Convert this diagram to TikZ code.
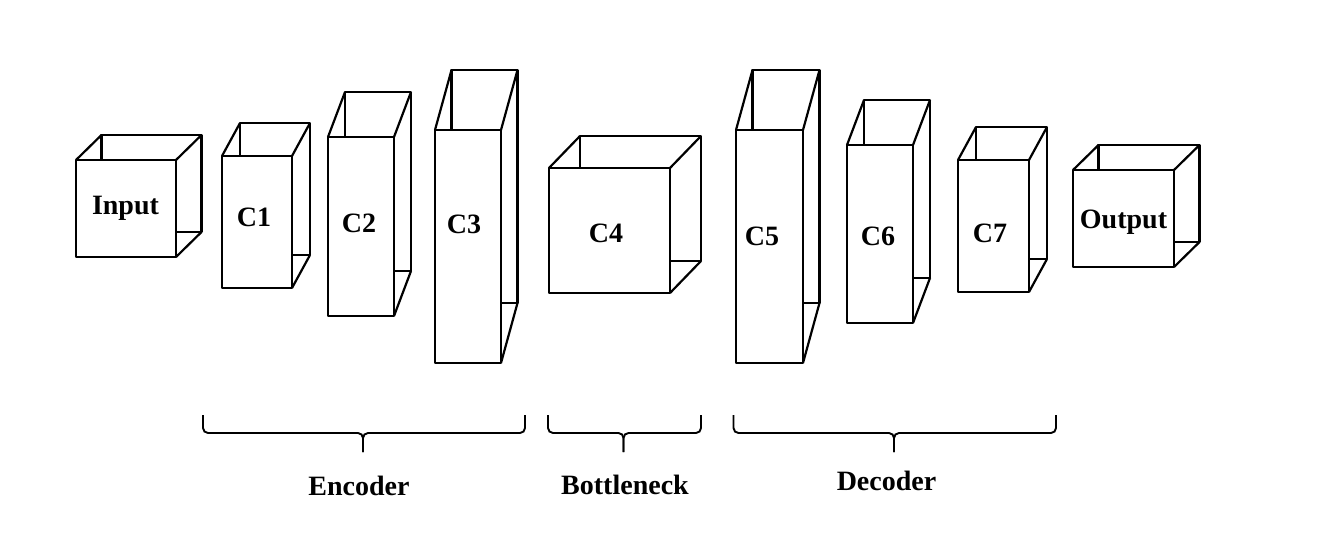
\documentclass[tikz,border=0pt]{standalone}
\usepackage{fontspec}
\setmainfont{Liberation Serif}
\usepackage{tikz}
\usetikzlibrary{positioning}
\tikzset{
  boxline/.style={line width=2.2pt, line join=round},
  braceline/.style={line width=1.9pt, rounded corners=5pt},
  lbl/.style={font=\fontsize{28}{31}\selectfont\bfseries, anchor=base, inner sep=0pt}
}
% front face (x1,y1)-(x2,y2), depth offset (ox,oy)
\newcommand{\layer}[6]{%
  \draw[boxline] (#1+#5,#2+#6) rectangle (#3+#5,#4+#6);
  \draw[boxline] (#1,#2) -- ++(#5,#6) (#3,#2) -- ++(#5,#6) (#3,#4) -- ++(#5,#6);
  \draw[boxline, fill=white] (#1,#2) rectangle (#3,#4);}
% bracket under a group: left end, tip, right end
\newcommand{\bracket}[3]{%
  \draw[braceline] (#1,415) -- (#1,433) -- (#2,433) -- (#2,452);
  \draw[braceline] (#3,415) -- (#3,433) -- (#2,433) -- (#2,452);}

\begin{document}
\begin{tikzpicture}[x=1pt, y=-1pt]
 \useasboundingbox (0,0) rectangle (1327,544);
 \foreach \xa/\ya/\xb/\yb/\ox/\oy in {76/160/176/257/25.5/-25, 222/156/292/288/18/-33,
   328/137/394/316/17/-45, 435/130/501/363/16.5/-60, 549/168/670/293/31/-32,
   736/130/803/363/16.5/-60, 847/145/913/323/17/-45, 958/160/1029/292/18/-33,
   1073/170/1174/267/25.5/-25}
   \layer{\xa}{\ya}{\xb}{\yb}{\ox}{\oy};
 \node[lbl] (input) at (125.5,214) {Input};
 \node[lbl] (c1) at (254,226.7) {C1};
 \node[lbl] (c2) at (359,232) {C2};
 \node[lbl] (c3) at (464,233) {C3};
 \node[lbl] (c4) at (606,242) {C4};
 \node[lbl] (c5) at (762,245) {C5};
 \node[lbl] (c6) at (878,245) {C6};
 \node[lbl] (c7) at (990,242) {C7};
 \node[lbl] (output) at (1123.5,228.3) {Output};
 \bracket{203}{363}{525}
 \bracket{548}{623.5}{701}
 \bracket{733.5}{894}{1056}
 \node[lbl] (enc) at (359,495) {Encoder};
 \node[lbl] (bott) at (625,494) {Bottleneck};
 \node[lbl] (dec) at (886.5,490.7) {Decoder};
\end{tikzpicture}
\end{document}
